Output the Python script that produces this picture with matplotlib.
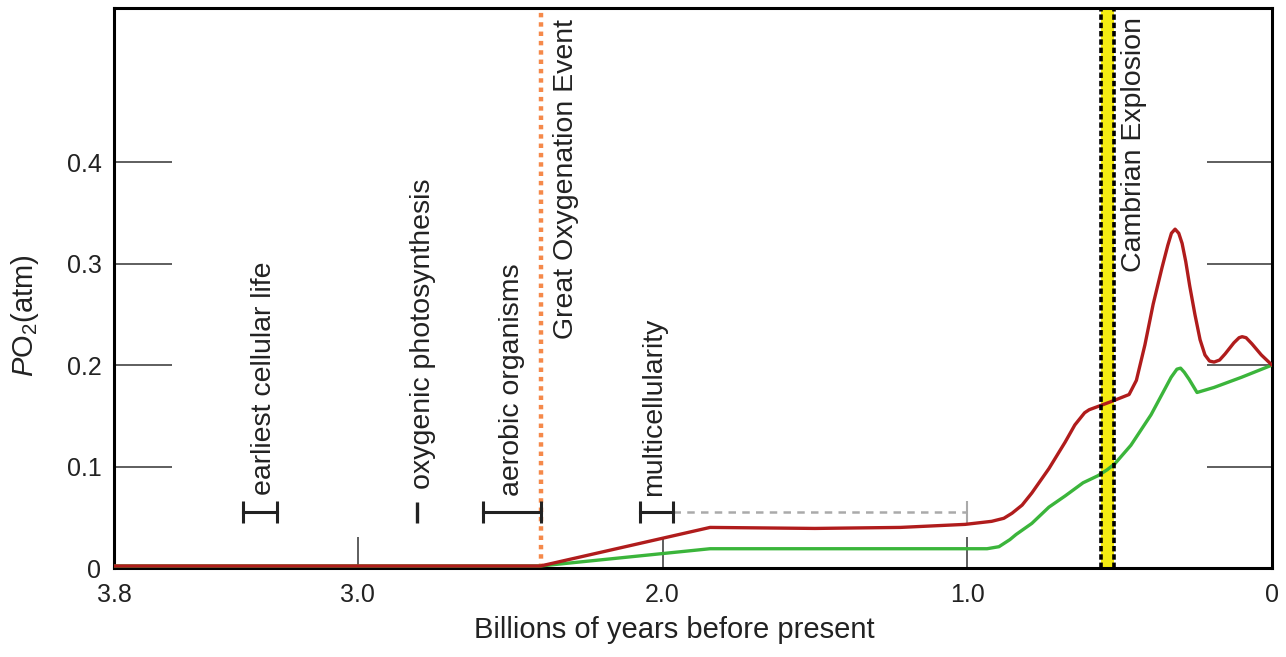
import matplotlib
matplotlib.use("Agg")
import matplotlib.pyplot as plt

# atmospheric O2 through time (Gyr before present, atm)
red_age = [3.8, 2.40, 1.844, 1.50, 1.22, 1.007, 0.92, 0.88, 0.853, 0.82, 0.788, 0.732,
           0.679, 0.647, 0.615, 0.60, 0.528, 0.469, 0.445, 0.417, 0.390, 0.361, 0.342,
           0.330, 0.318, 0.306, 0.295, 0.283, 0.270, 0.253, 0.236, 0.220, 0.205, 0.190,
           0.172, 0.154, 0.125, 0.108, 0.098, 0.085, 0.066, 0.035, 0.0]
red_po2 = [0.002, 0.002, 0.040, 0.039, 0.040, 0.043, 0.046, 0.049, 0.054, 0.062, 0.074, 0.098,
           0.124, 0.141, 0.153, 0.156, 0.164, 0.171, 0.185, 0.220, 0.260, 0.296, 0.318,
           0.330, 0.334, 0.330, 0.320, 0.302, 0.278, 0.250, 0.225, 0.210, 0.204, 0.203,
           0.205, 0.211, 0.222, 0.227, 0.228, 0.227, 0.221, 0.210, 0.200]

green_age = [3.8, 2.40, 1.844, 0.935, 0.896, 0.86, 0.84, 0.788, 0.732, 0.679, 0.62, 0.571,
             0.540, 0.515, 0.463, 0.397, 0.331, 0.312, 0.300, 0.288, 0.272, 0.246, 0.190,
             0.10, 0.0]
green_po2 = [0.002, 0.002, 0.019, 0.019, 0.021, 0.028, 0.033, 0.044, 0.060, 0.071, 0.084, 0.091,
             0.097, 0.103, 0.121, 0.151, 0.188, 0.196, 0.197, 0.193, 0.186, 0.173, 0.178,
             0.188, 0.200]

# events
bar_labels = ["earliest cellular life", "aerobic organisms", "multicellularity"]
bar_start = [3.377, 2.59, 2.074]
bar_end = [3.265, 2.40, 1.966]
photosynthesis_age = 2.806
goe_age = 2.40
cambrian = (0.561, 0.518)

x_ticks = [3.8, 3.0, 2.0, 1.0, 0.0]
x_labels = ["3.8", "3.0", "2.0", "1.0", "0"]
y_ticks = [0.0, 0.1, 0.2, 0.3, 0.4]
y_labels = ["0", "0.1", "0.2", "0.3", "0.4"]

plt.rcParams["font.family"] = ["Liberation Sans", "DejaVu Sans"]
plt.rcParams["mathtext.fontset"] = "custom"
plt.rcParams["mathtext.rm"] = "Liberation Sans"
plt.rcParams["mathtext.it"] = "Liberation Sans:italic"

ink = "#222222"

fig = plt.figure(figsize=(12.86, 6.57), dpi=100)
ax = fig.add_axes([114 / 1286, 89 / 657, 1158 / 1286, 560 / 657])
ax.set_xlim(3.8, 0)
ax.set_ylim(0, 0.552)

# cambrian band
ax.axvspan(cambrian[1], cambrian[0], color="#f4ec12", lw=0, zorder=1)
for xc in cambrian:
    ax.axvline(xc, color="black", lw=2.6, ls=(0, (1.5, 0.8)), zorder=4)

# great oxygenation event
ax.axvline(goe_age, color="#f5894a", lw=3.2, ls=(0, (1, 1.1)), zorder=2)

ax.plot(green_age, green_po2, color="#3bb53b", lw=2.4, zorder=3,
        solid_capstyle="round", solid_joinstyle="round")
ax.plot(red_age, red_po2, color="#b01c1c", lw=2.4, zorder=3,
        solid_capstyle="round", solid_joinstyle="round")

# range bars
ybar = 0.0555
cap = 0.011
for x0, x1 in zip(bar_start, bar_end):
    ax.plot([x0, x1], [ybar, ybar], color=ink, lw=2.2, zorder=5)
    ax.vlines([x0, x1], ybar - cap, ybar + cap, color=ink, lw=2.2, zorder=5)
ax.vlines(photosynthesis_age, ybar - cap, ybar + cap * 0.9, color=ink, lw=2.4, zorder=5)
ax.plot([bar_end[2], 1.0], [ybar, ybar], color="#aaaaaa", lw=1.8, ls=(0, (3, 2.5)), zorder=2)
ax.vlines(1.0, ybar - cap, ybar + cap, color="#aaaaaa", lw=1.5, zorder=2)

fs = 20.5
ax.text(3.308, 0.072, bar_labels[0], rotation=90, ha="center", va="bottom", fontsize=fs, color=ink)
ax.text(2.786, 0.078, "oxygenic photosynthesis", rotation=90, ha="center", va="bottom",
        fontsize=fs, color=ink)
ax.text(2.494, 0.071, bar_labels[1], rotation=90, ha="center", va="bottom", fontsize=fs, color=ink)
ax.text(2.028, 0.071, bar_labels[2], rotation=90, ha="center", va="bottom", fontsize=fs, color=ink)
ax.text(2.318, 0.226, "Great Oxygenation Event", rotation=90, ha="center", va="bottom",
        fontsize=fs, color=ink)
ax.text(0.452, 0.292, "Cambrian Explosion", rotation=90, ha="center", va="bottom",
        fontsize=fs, color=ink)

# axes styling
for s in ax.spines.values():
    s.set_linewidth(2.2)
    s.set_color("black")
ax.set_xticks(x_ticks)
ax.set_xticklabels(x_labels)
ax.set_yticks(y_ticks)
ax.set_yticklabels(y_labels)
ax.tick_params(axis="x", direction="in", length=22, width=1.1, color="#333333",
               labelsize=18, pad=11, labelcolor=ink)
ax.tick_params(axis="y", direction="in", length=42, width=1.1, color="#333333",
               labelsize=18, pad=9, right=True, labelcolor=ink)
for t in ax.yaxis.get_major_ticks():
    t.tick2line.set_markersize(47)

ax.set_xlabel("Billions of years before present", fontsize=21, color=ink)
ax.xaxis.set_label_coords(0.484, -0.086)
ax.set_ylabel(r"$\mathit{P}$O$_2$(atm)", fontsize=21, color=ink)
ax.yaxis.set_label_coords(-0.063, 0.45)

fig.savefig("out.png", dpi=100)
